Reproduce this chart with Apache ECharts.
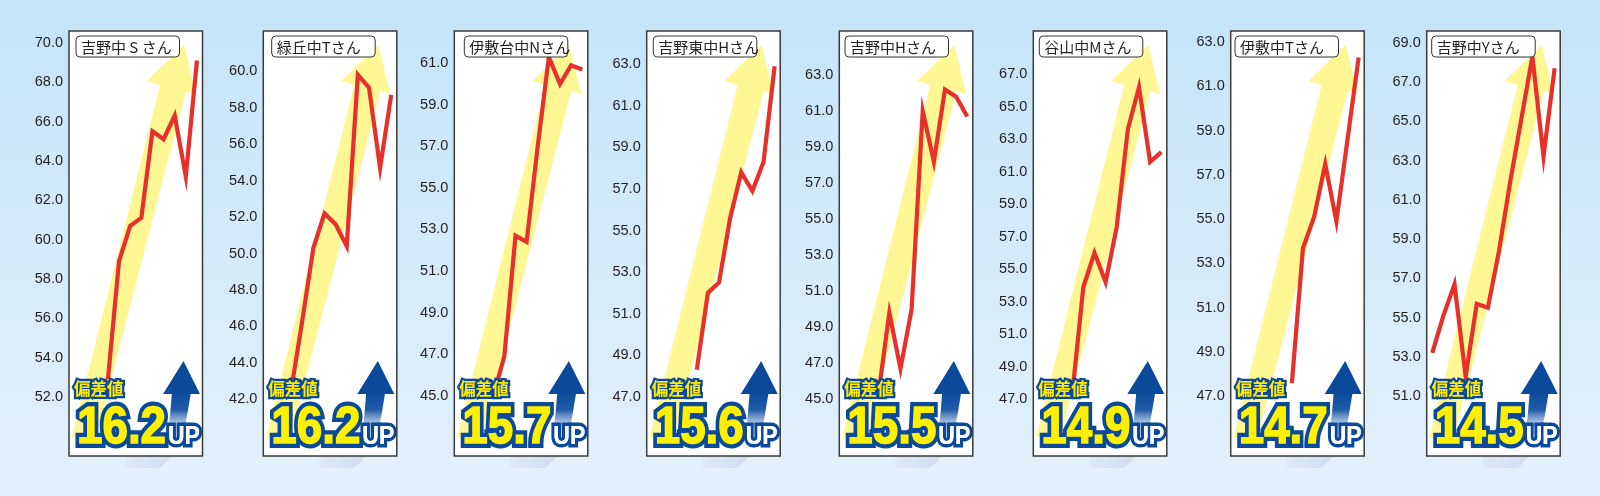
<!DOCTYPE html>
<html><head><meta charset="utf-8">
<script src="https://cdn.jsdelivr.net/npm/echarts@6/dist/echarts.min.js"></script>
<style>html,body{margin:0;padding:0;background:#d4ebf9;}#c{width:1600px;height:496px;}</style>
</head><body><div id="c"></div>
<script>
// ---------- data ----------
const months = ['4月','5月','6月','7月','8月','9月','10月','11月','12月','1月','2月','3月'];
const students = ['吉野中 S さん','緑丘中Tさん','伊敷台中Nさん','吉野東中Hさん','吉野中Hさん','谷山中Mさん','伊敷中Tさん','吉野中Yさん'];
const upValues = ['16.2','16.2','15.7','15.6','15.5','14.9','14.7','14.5'];
const upLabel = 'UP';
const hensachiLabel = '偏差値';
const s1 = [null,null,null,52.9,58.9,60.7,61.1,65.5,65.1,66.3,63.2,69.1];
const s2 = [null,null,42.5,46.3,50.3,52.2,51.6,50.4,59.8,59.1,54.7,58.7];
const s3 = [null,null,null,45.0,46.9,52.7,52.4,57.0,61.3,60.0,60.9,60.7];
const s4 = [null,null,null,null,48.3,52.0,52.5,55.6,57.8,56.9,58.3,62.9];
const s5 = [null,null,null,45.2,49.8,46.7,50.0,61.0,58.2,62.2,61.8,60.7];
const s6 = [null,null,null,47.3,53.9,56.0,54.2,57.6,63.6,66.2,61.6,62.2];
const s7 = [null,null,null,null,null,47.6,53.7,55.1,57.5,54.9,58.6,62.3];
const s8 = [53.2,55.1,56.7,52.0,55.7,55.5,58.4,61.9,65.1,68.3,63.2,67.7];
const allSeries = [s1,s2,s3,s4,s5,s6,s7,s8];
const yMin = [49.0,38.9,42.1,44.15,41.85,43.5,44.3,47.95];
const yMax = [70.6,62.2,62.55,64.6,65.45,69.65,63.5,69.6];
const ticks1 = [52,54,56,58,60,62,64,66,68,70];
const ticks2 = [42,44,46,48,50,52,54,56,58,60];
const ticks3 = [45,47,49,51,53,55,57,59,61];
const ticks4 = [47,49,51,53,55,57,59,61,63];
const ticks5 = [45,47,49,51,53,55,57,59,61,63];
const ticks6 = [47,49,51,53,55,57,59,61,63,65,67];
const ticks7 = [47,49,51,53,55,57,59,61,63];
const ticks8 = [51,53,55,57,59,61,63,65,67,69];
const allTicks = [ticks1,ticks2,ticks3,ticks4,ticks5,ticks6,ticks7,ticks8];

// ---------- layout ----------
const panelLeft = [69, 263.3, 454.3, 646.7, 839.3, 1033.3, 1230.7, 1426.7];
const titleOffset = [7, 8.4, 10, 6.6, 5.7, 6, 4.3, 5];
const T = 31, H = 425, W = 133.5;
const NAVY = '#0b4a9b';
const YELLOW = '#fff000';

const chart = echarts.init(document.getElementById('c'), null, {renderer:'canvas', width:1600, height:496});
const grids=[], xAxes=[], yAxes=[], series=[], graphics=[];

graphics.push({type:'rect', silent:true, z:0, shape:{x:0,y:0,width:1600,height:496},
  style:{fill:new echarts.graphic.LinearGradient(0,0,0,1,[{offset:0,color:'#c4e4f8'},{offset:1,color:'#e3f1fc'}])}});

function P(L, pts){ return pts.map(p=>[L+p[0], T+p[1]]); }

allSeries.forEach((data,i)=>{
  const L = panelLeft[i];
  grids.push({left:L, top:T, width:W, height:H, show:false, containLabel:false});
  xAxes.push({type:'category', gridIndex:i, data:months, boundaryGap:true, show:false});
  yAxes.push({type:'value', gridIndex:i, min:yMin[i], max:yMax[i],
    axisLine:{show:false}, axisTick:{show:false}, splitLine:{show:false},
    axisLabel:{customValues:allTicks[i], formatter:v=>v.toFixed(1), color:'#231f20', fontSize:14.5,
      fontFamily:'"Liberation Sans", Arial, sans-serif', margin:6}});
  series.push({type:'line', xAxisIndex:i, yAxisIndex:i, data:data, symbol:'none', z:5, silent:true,
    connectNulls:false, lineStyle:{color:'#e8302a', width:4.2, join:'miter', cap:'butt'}});

  // shadow under box
  graphics.push({type:'polygon', silent:true, z:1, shape:{points:P(L,[[56,400],[103,400],[103,425],[91,437],[56,437]])},
    style:{fill:new echarts.graphic.LinearGradient(0,0,1,0,[{offset:0,color:'#dfe9f7'},{offset:1,color:'#cfdcf1'}])}});
  // white panel
  graphics.push({type:'rect', silent:true, z:2, shape:{x:L,y:T,width:W,height:H}, style:{fill:'#ffffff'}});
  // yellow arrow
  graphics.push({type:'polygon', silent:true, z:3,
    shape:{points:P(L,[[3,406],[91,54],[78,50],[115,14],[127,63],[117,60],[27,406]])},
    style:{fill:'#fff694'}});
  // blue arrow shaft + head
  graphics.push({type:'polygon', silent:true, z:6,
    shape:{points:P(L,[[103,361],[101,385],[97,412],[112,412],[118,385],[122,361]])},
    style:{fill:new echarts.graphic.LinearGradient(0,0,0,1,[{offset:0,color:NAVY},{offset:0.35,color:'#1f5aa8'},{offset:1,color:'rgba(255,255,255,0)'}])}});
  graphics.push({type:'polygon', silent:true, z:6,
    shape:{points:P(L,[[94,363],[114.5,330],[131,363]])}, style:{fill:NAVY}});
  // texts
  graphics.push({type:'text', silent:true, z:7, x:L+5, y:T+357.5,
    style:{text:hensachiLabel, font:'bold 16.5px "Noto Sans CJK JP"', fill:'#ffea00', stroke:NAVY, lineWidth:4.5, lineJoin:'round', align:'left', verticalAlign:'middle'}});
  // big number: outline layer then emboldened fill layer
  graphics.push({type:'text', silent:true, z:7, x:L+8, y:T+398, scaleX:0.88,
    style:{text:upValues[i], font:'bold 52px "Liberation Sans"', fill:YELLOW, stroke:NAVY, lineWidth:10, lineJoin:'round', align:'left', verticalAlign:'middle'}});
  graphics.push({type:'text', silent:true, z:7.1, x:L+8, y:T+398, scaleX:0.88,
    style:{text:upValues[i], font:'bold 52px "Liberation Sans"', fill:YELLOW, stroke:YELLOW, lineWidth:1.5, lineJoin:'round', align:'left', verticalAlign:'middle'}});
  graphics.push({type:'text', silent:true, z:7, x:L+99, y:T+406, scaleX:0.92,
    style:{text:upLabel, font:'bold 25px "Liberation Sans"', fill:'#ffffff', stroke:NAVY, lineWidth:7, lineJoin:'round', align:'left', verticalAlign:'middle'}});
  graphics.push({type:'text', silent:true, z:7.1, x:L+99, y:T+406, scaleX:0.92,
    style:{text:upLabel, font:'bold 25px "Liberation Sans"', fill:'#ffffff', align:'left', verticalAlign:'middle'}});
  // title box
  const bx = L + titleOffset[i];
  graphics.push({type:'rect', silent:true, z:8, shape:{x:bx, y:T+5, width:103.5, height:21, r:4},
    style:{fill:'#ffffff', stroke:'#333333', lineWidth:1}});
  graphics.push({type:'text', silent:true, z:8, x:bx+5, y:T+16,
    style:{text:students[i], font:'15px "Noto Sans CJK JP"', fill:'#231f20', align:'left', verticalAlign:'middle'}});
  // panel border
  graphics.push({type:'rect', silent:true, z:9, shape:{x:L,y:T,width:W,height:H}, style:{fill:'none', stroke:'#3a3a3a', lineWidth:1.5}});
});

chart.setOption({
  animation:false,
  grid:grids, xAxis:xAxes, yAxis:yAxes, series:series, graphic:{elements:graphics}
});
</script>
</body></html>
